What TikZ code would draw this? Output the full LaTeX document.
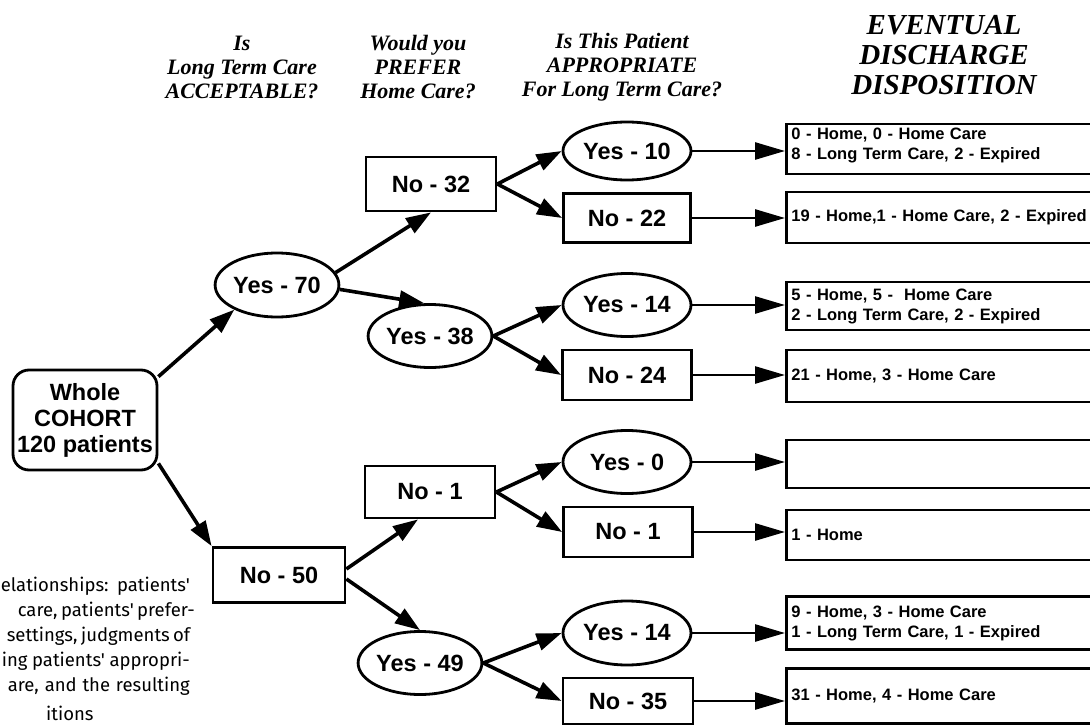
\documentclass[tikz,border=0pt]{standalone}
\usepackage{fontspec}
\setmainfont{Liberation Serif}
\newfontfamily\arialf{Liberation Sans}
\newfontfamily\capf{Fira Sans}
\usetikzlibrary{shapes.geometric,arrows.meta}
\begin{document}
\begin{tikzpicture}[x=1pt,y=-1pt,
  hdr/.style={font=\fontsize{22}{24}\selectfont\bfseries\itshape, align=center, inner sep=0},
  hdrbig/.style={font=\fontsize{29}{30}\selectfont\bfseries\itshape, align=center, inner sep=0},
  lab/.style={font=\arialf\fontsize{23.5}{26}\selectfont\bfseries, line width=2.8pt, draw, inner sep=0},
  yesnode/.style={lab, ellipse, minimum width=124pt, minimum height=62pt},
  nonode/.style={lab, rectangle, minimum width=130pt, minimum height=52pt},
  dispo/.style={draw, line width=2.8pt, rectangle, anchor=west, minimum width=330pt, minimum height=50pt, text width=320pt, align=left, inner xsep=4pt, inner ysep=0pt, font=\arialf\fontsize{16.5}{20}\selectfont\bfseries},
  conn/.style={line width=3.6pt, -{Triangle[length=25pt,width=17pt]}},
  outarr/.style={line width=2.6pt, -{Triangle[length=30pt,width=17pt]}},
  captxt/.style={font=\capf\fontsize{18.5}{22}\selectfont, anchor=base east, inner sep=0}
]
\useasboundingbox (0,0) rectangle (1090,725);
\fill[white] (0,0) rectangle (1090,725);
\clip (0,0) rectangle (1090,725);

% headers
\node[hdr] (h1) at (242,67) {Is\\Long Term Care\\ACCEPTABLE?};
\node[hdr] (h2) at (418,67) {Would you\\PREFER\\Home Care?};
\node[hdr] (h3) at (622,67) {Is This Patient\\APPROPRIATE\\For Long Term Care?};
\node[hdrbig] (h4) at (944,55) {EVENTUAL\\DISCHARGE\\DISPOSITION};

% column 0
\node[lab, rectangle, rounded corners=16pt, minimum width=144pt, minimum height=100pt, align=center] (cohort) at (85,420) {Whole\\COHORT\\120 patients};

% column 1
\node[yesnode, minimum width=122pt, minimum height=64pt] (yes70) at (277,285) {Yes - 70};
\node[nonode, minimum width=132pt, minimum height=55pt] (no50) at (279,575) {No - 50};

% column 2
\node[nonode, minimum height=54pt] (no32) at (431,184) {No - 32};
\node[yesnode, minimum width=120pt, minimum height=63pt] (yes38) at (430,336) {Yes - 38};
\node[nonode] (no1b) at (430,492) {No - 1};
\node[yesnode, minimum width=122pt, minimum height=63pt] (yes49) at (420,663) {Yes - 49};

% column 3
\node[yesnode, minimum width=128pt, minimum height=58pt] (yes10) at (627,151) {Yes - 10};
\node[nonode, minimum width=127pt, minimum height=49pt] (no22) at (627,218) {No - 22};
\node[yesnode, minimum width=128pt, minimum height=63pt] (yes14) at (627,305) {Yes - 14};
\node[nonode, minimum width=129pt, minimum height=50pt] (no24) at (627,375) {No - 24};
\node[yesnode, minimum width=128pt, minimum height=63pt] (yes0) at (627,462) {Yes - 0};
\node[nonode, minimum width=129pt, minimum height=50pt] (no1c) at (628,532) {No - 1};
\node[yesnode, minimum width=128pt, minimum height=64pt] (yes14b) at (627,633) {Yes - 14};
\node[nonode, minimum width=130pt, minimum height=46pt] (no35) at (628,701) {No - 35};

% disposition boxes
\node[dispo] (b1) at (785,149) {0 - Home, 0 - Home Care\\8 - Long Term Care, 2 - Expired\\[-9pt]\mbox{}};
\node[dispo, minimum height=51pt, inner xsep=1.5pt] (b2) at (785,217.5) {19 - Home,1 - Home Care, 2 - Expired};
\node[dispo, minimum height=48pt] (b3) at (785,306) {5 - Home, 5 -\ \ Home Care\\2 - Long Term Care, 2 - Expired};
\node[dispo, minimum height=52pt] (b4) at (785,376) {21 - Home, 3 - Home Care};
\node[dispo, minimum height=48pt] (b5) at (785,464) {};
\node[dispo, inner xsep=2pt] (b6) at (785,535) {1 - Home};
\node[dispo, minimum height=53pt, inner xsep=2pt] (b7) at (785,623) {9 - Home, 3 - Home Care\\1 - Long Term Care, 1 - Expired};
\node[dispo, minimum height=55pt] (b8) at (785,696) {31 - Home, 4 - Home Care};

% connectors
\draw[conn] ([yshift=-8pt]cohort.north east) -- (yes70.210);
\draw[conn] ([yshift=8pt]cohort.south east) -- (no50.north west);
\draw[conn] (yes70.12) -- (no32.south);
\draw[conn] (yes70.-4) -- (yes38.100);
\draw[conn] ([yshift=6pt]no50.east) -- ([xshift=-12pt]no1b.south);
\draw[conn] ([yshift=-4pt]no50.east) -- (yes49.north);

\draw[conn] (no32.east) -- (yes10.west);
\draw[conn] (no32.east) -- (no22.west);
\draw[conn] (yes38.east) -- (yes14.west);
\draw[conn] (yes38.east) -- (no24.west);
\draw[conn] (no1b.east) -- (yes0.west);
\draw[conn] (no1b.east) -- (no1c.west);
\draw[conn] (yes49.east) -- (yes14b.west);
\draw[conn] (yes49.east) -- (no35.west);

\draw[outarr] (yes10.east) -- (yes10 -| b1.west);
\draw[outarr] (no22.east) -- (no22 -| b2.west);
\draw[outarr] (yes14.east) -- (yes14 -| b3.west);
\draw[outarr] (no24.east) -- (no24 -| b4.west);
\draw[outarr] (yes0.east) -- (yes0 -| b5.west);
\draw[outarr] (no1c.east) -- (no1c -| b6.west);
\draw[outarr] (yes14b.east) -- (yes14b -| b7.west);
\draw[outarr] (no35.east) -- (no35 -| b8.west);

% caption fragment
\node[captxt] (c1) at (190,591) {\makebox[189pt][s]{elationships: patients'}};
\node[captxt] (c2) at (190,616) {\makebox[172pt][s]{care, patients' prefer-}};
\node[captxt] (c3) at (190,641) {\makebox[183pt][s]{settings, judgments of}};
\node[captxt] (c4) at (190,666) {\makebox[188pt][s]{ing patients' appropri-}};
\node[captxt] (c5) at (190,691) {\makebox[182pt][s]{are, and the resulting}};
\node[captxt, anchor=base west] (c6) at (46,720) {itions};
\end{tikzpicture}
\end{document}
